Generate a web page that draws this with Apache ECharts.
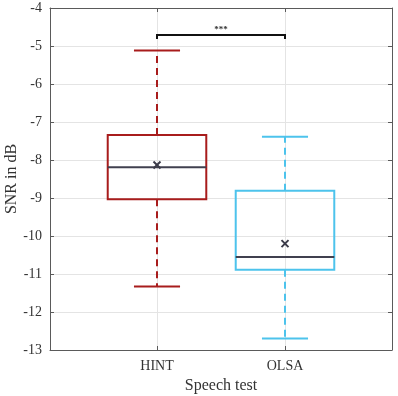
<!DOCTYPE html>
<html><head><meta charset="utf-8">
<script src="https://cdn.jsdelivr.net/npm/echarts@6/dist/echarts.min.js"></script>
<style>html,body{margin:0;padding:0;background:#fff}#c{width:398px;height:396px}</style>
</head><body><div id="c"></div>
<script>
const categories = ['HINT', 'OLSA'];
const positions = [1, 2];
const lowerWhisker = [-11.33, -12.70];
const q1 = [-9.03, -10.89];
const median = [-8.19, -10.55];
const q3 = [-7.34, -8.81];
const upperWhisker = [-5.12, -7.39];
const means = [-8.13, -10.20];
const boxColors = ['#A81C1C', '#4DC3EC'];
const sigPair = [1, 2];
const sigLevel = -4.71;
const sigLabel = '***';

const FONT = '"Liberation Serif", "Times New Roman", serif';
const AX = '#5a5a5a';
const boxData = positions.map((p, i) => [p, lowerWhisker[i], q1[i], median[i], q3[i], upperWhisker[i], means[i]]);

function renderBox(params, api) {
  const i = params.dataIndex;
  const x = api.value(0);
  const color = boxColors[i];
  const hw = 0.385, cw = 0.18;
  const c = (xx, yy) => api.coord([xx, yy]);
  const lo = api.value(1), b1 = api.value(2), md = api.value(3), b3 = api.value(4), hi = api.value(5), mn = api.value(6);
  const st = { stroke: color, lineWidth: 2, fill: null };
  const line = (a, b, style) => ({ type: 'line', shape: { x1: a[0], y1: a[1], x2: b[0], y2: b[1] }, style: style });
  const tl = c(x - hw, b3), br = c(x + hw, b1);
  const m = c(x, mn);
  const s = 3.5;
  const mk = { stroke: '#3a3a48', lineWidth: 2 };
  return {
    type: 'group',
    children: [
      line(c(x, b3), c(x, hi), Object.assign({}, st, { lineDash: [7, 5] })),
      line(c(x, b1), c(x, lo), Object.assign({}, st, { lineDash: [7, 5] })),
      line(c(x - cw, hi), c(x + cw, hi), st),
      line(c(x - cw, lo), c(x + cw, lo), st),
      { type: 'rect', shape: { x: tl[0], y: tl[1], width: br[0] - tl[0], height: br[1] - tl[1] }, style: st },
      line(c(x - hw, md), c(x + hw, md), { stroke: '#40404f', lineWidth: 2 }),
      line([m[0] - s, m[1] - s], [m[0] + s, m[1] + s], mk),
      line([m[0] - s, m[1] + s], [m[0] + s, m[1] - s], mk)
    ]
  };
}

function renderSig(params, api) {
  const a = api.coord([api.value(0), api.value(2)]);
  const b = api.coord([api.value(1), api.value(2)]);
  const st = { stroke: '#111', lineWidth: 2 };
  return {
    type: 'group',
    children: [
      { type: 'polyline', shape: { points: [[a[0], a[1] + 4], [a[0], a[1]], [b[0], b[1]], [b[0], b[1] + 4]] }, style: Object.assign({ fill: null }, st) },
      { type: 'text', x: (a[0] + b[0]) / 2, y: a[1] - 1, style: { text: sigLabel, fill: '#333', font: 'bold 9px ' + FONT, align: 'center', verticalAlign: 'bottom' } }
    ]
  };
}

const chart = echarts.init(document.getElementById('c'), null, { renderer: 'canvas' });
const xCommon = {
  type: 'value', min: 0.164, max: 2.836,
  axisLine: { show: true, lineStyle: { color: AX, width: 1 } },
  axisTick: { show: true, inside: true, length: 4, customValues: positions, lineStyle: { color: AX } },
  splitLine: { show: false }
};
const yCommon = {
  type: 'value', min: -13, max: -4, interval: 1,
  axisLine: { show: true, lineStyle: { color: AX, width: 1 } },
  axisTick: { show: true, inside: true, length: 4, lineStyle: { color: AX } }
};
chart.setOption({
  animation: false,
  backgroundColor: '#fff',
  grid: { left: 50, right: 6, top: 8, bottom: 46, show: false, containLabel: false, outerBoundsMode: 'none' },
  xAxis: [
    Object.assign({}, xCommon, {
      position: 'bottom',
      name: 'Speech test', nameLocation: 'middle', nameGap: 25,
      nameTextStyle: { fontFamily: FONT, fontSize: 16, color: '#333' },
      axisLabel: { customValues: positions, formatter: v => categories[positions.indexOf(Math.round(v))] || '', fontFamily: FONT, fontSize: 14, color: '#333', margin: 9 },
      splitLine: { show: true, lineStyle: { color: '#e4e4e4', width: 1 } }
    }),
    Object.assign({}, xCommon, { position: 'top', axisLabel: { show: false } })
  ],
  yAxis: [
    Object.assign({}, yCommon, {
      position: 'left',
      name: 'SNR in dB', nameLocation: 'middle', nameGap: 30, nameMoveOverlap: false,
      nameTextStyle: { fontFamily: FONT, fontSize: 16, color: '#333' },
      axisLabel: { fontFamily: FONT, fontSize: 14, color: '#333', margin: 8 },
      splitLine: { show: true, lineStyle: { color: '#e4e4e4', width: 1 } }
    }),
    Object.assign({}, yCommon, { position: 'right', axisLabel: { show: false }, splitLine: { show: false } })
  ],
  series: [
    { type: 'custom', xAxisIndex: 0, yAxisIndex: 0, renderItem: renderBox, data: boxData, clip: false, z: 3 },
    { type: 'custom', xAxisIndex: 0, yAxisIndex: 0, renderItem: renderSig, data: [[sigPair[0], sigPair[1], sigLevel]], clip: false, z: 4 }
  ]
});
</script></body></html>
